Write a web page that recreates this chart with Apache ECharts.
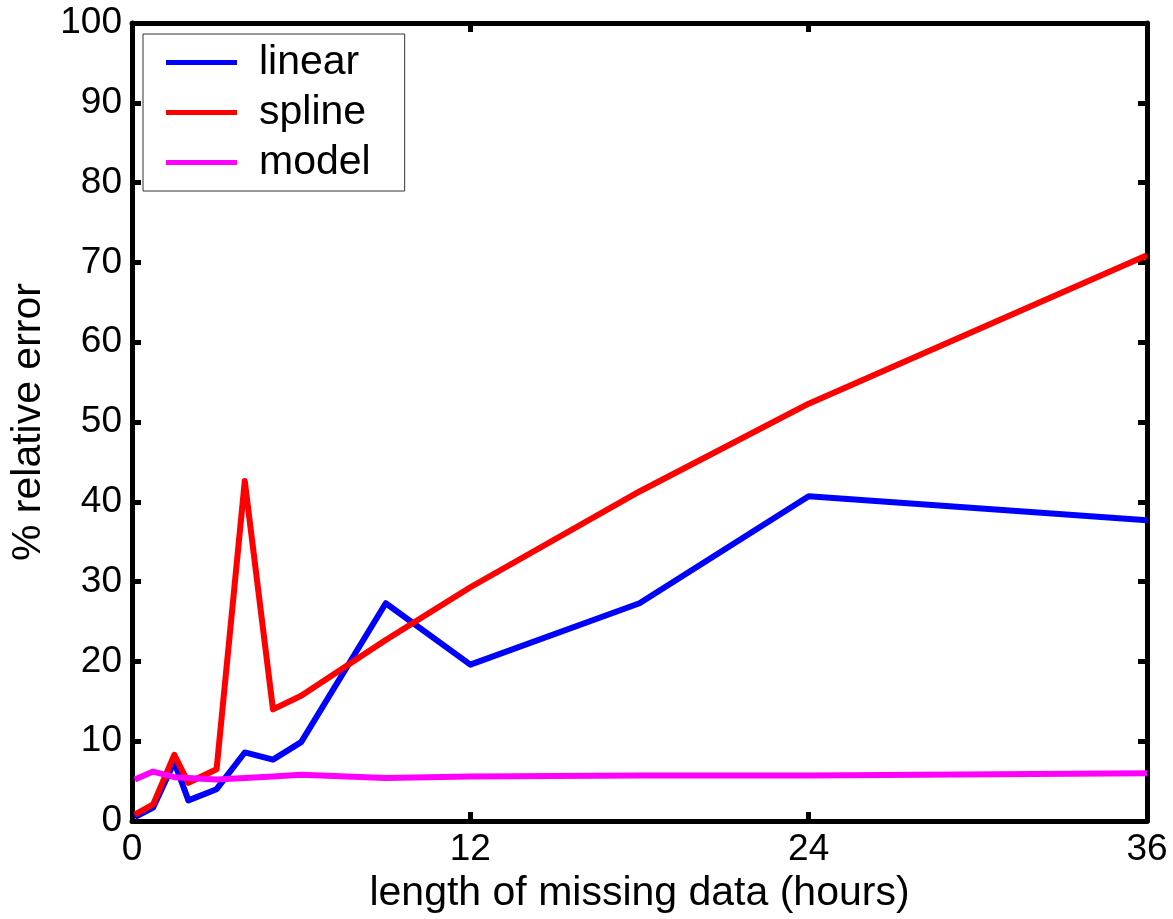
<!DOCTYPE html>
<html>
<head>
<meta charset="utf-8">
<title>relative error</title>
<script src="https://cdn.jsdelivr.net/npm/echarts@6/dist/echarts.min.js"></script>
<style>
    html, body { margin: 0; padding: 0; background: #fff; }
    #display-chart { width: 1173px; height: 919px; }
</style>
</head>
<body>
<div id="display-chart"></div>
<script>
// 缺失数据长度 (hours)
var hours = [0.1, 0.75, 1.5, 2, 3, 4, 5, 6, 9, 12, 18, 24, 36];
// 各方法的相对误差 (%)
var linearErr = [0.5, 1.7, 7.4, 2.6, 4.0, 8.6, 7.7, 9.9, 27.3, 19.6, 27.3, 40.7, 37.7];
var splineErr = [0.8, 2.1, 8.3, 4.8, 6.5, 42.6, 14.0, 15.7, 22.7, 29.3, 41.3, 52.3, 70.9];
var modelErr = [5.2, 6.2, 5.5, 5.4, 5.2, 5.4, 5.6, 5.8, 5.4, 5.6, 5.7, 5.7, 6.0];
var xTicks = [0, 12, 24, 36];
var yTicks = [0, 10, 20, 30, 40, 50, 60, 70, 80, 90, 100];

var FONT = "'Liberation Sans', Arial, Helvetica, sans-serif";

function pairs(xs, ys) {
    var out = [];
    for (var i = 0; i < xs.length; i++) {
        out.push([xs[i], ys[i]]);
    }
    return out;
}

function lineSeries(name, color, ys) {
    return {
        name: name,
        type: 'line',
        xAxisIndex: 0,
        yAxisIndex: 0,
        data: pairs(hours, ys),
        showSymbol: false,
        symbol: 'none',
        color: color,
        lineStyle: { color: color, width: 6, join: 'round' },
        animation: false
    };
}

var myChart = echarts.init(document.getElementById("display-chart"));
myChart.setOption({
    backgroundColor: '#fff',
    animation: false,
    grid: { //绘图区
        left: 132,
        right: 26,
        top: 23,
        bottom: 95
    },
    legend: {
        orient: 'vertical',
        left: 143,
        top: 34,
        padding: [8, 34, 8, 23],
        itemGap: 9,
        itemWidth: 71,
        itemHeight: 5,
        icon: 'rect',
        borderColor: '#333',
        borderWidth: 1,
        backgroundColor: '#fff',
        textStyle: {
            fontFamily: FONT,
            fontSize: 41,
            lineHeight: 40,
            color: '#000',
            padding: [0, 0, 0, 17]
        },
        data: ['linear', 'spline', 'model']
    },
    xAxis: [{
        type: 'value',
        min: xTicks[0],
        max: xTicks[xTicks.length - 1],
        interval: 12,
        name: 'length of missing data (hours)',
        nameLocation: 'middle',
        nameGap: 27,
        nameTextStyle: { fontFamily: FONT, fontSize: 41, color: '#000' },
        axisLine: { onZero: false, lineStyle: { color: '#000', width: 5 } },
        axisTick: { inside: true, length: 9, lineStyle: { color: '#000', width: 5 } },
        axisLabel: { fontFamily: FONT, fontSize: 37, color: '#000', margin: 10 },
        splitLine: { show: false }
    }, {
        type: 'value',
        position: 'top',
        min: xTicks[0],
        max: xTicks[xTicks.length - 1],
        interval: 12,
        axisLine: { onZero: false, lineStyle: { color: '#000', width: 5 } },
        axisTick: { inside: true, length: 9, lineStyle: { color: '#000', width: 5 } },
        axisLabel: { show: false },
        splitLine: { show: false }
    }],
    yAxis: [{
        type: 'value',
        min: yTicks[0],
        max: yTicks[yTicks.length - 1],
        interval: 10,
        name: '% relative error',
        nameLocation: 'middle',
        nameGap: 82,
        nameRotate: 90,
        nameTextStyle: { fontFamily: FONT, fontSize: 41, color: '#000' },
        axisLine: { onZero: false, lineStyle: { color: '#000', width: 5 } },
        axisTick: { inside: true, length: 9, lineStyle: { color: '#000', width: 5 } },
        axisLabel: { fontFamily: FONT, fontSize: 37, color: '#000', margin: 10 },
        splitLine: { show: false }
    }, {
        type: 'value',
        position: 'right',
        min: yTicks[0],
        max: yTicks[yTicks.length - 1],
        interval: 10,
        axisLine: { onZero: false, lineStyle: { color: '#000', width: 5 } },
        axisTick: { inside: true, length: 9, lineStyle: { color: '#000', width: 5 } },
        axisLabel: { show: false },
        splitLine: { show: false }
    }],
    series: [
        lineSeries('linear', '#0000ff', linearErr),
        lineSeries('spline', '#ff0000', splineErr),
        lineSeries('model', '#ff00ff', modelErr)
    ]
});
</script>
</body>
</html>
